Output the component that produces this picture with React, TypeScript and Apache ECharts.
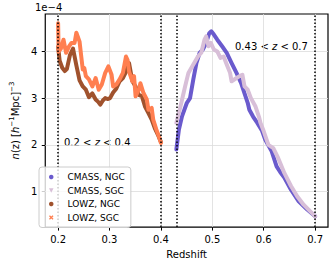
import React, { useEffect, useRef } from "react";
import * as echarts from "echarts";

const FONT = "DejaVu Sans";

const xTicks = [0.2, 0.3, 0.4, 0.5, 0.6, 0.7];
const yTicks = [1, 2, 3, 4];
const zCuts = [0.2, 0.4, 0.43, 0.7];

const cmassNgcZ = [0.430, 0.435, 0.441, 0.4505, 0.4566, 0.463, 0.469, 0.4753, 0.4815, 0.488, 0.494, 0.498, 0.503, 0.5096, 0.519, 0.528, 0.5375, 0.547, 0.556, 0.5626, 0.5688, 0.572, 0.5795, 0.5875, 0.5967, 0.603, 0.6155, 0.625, 0.632, 0.640, 0.653, 0.668, 0.684, 0.700];
const cmassNgcN = [1.90, 2.33, 2.61, 2.90, 3.00, 3.40, 3.75, 3.97, 4.04, 4.18, 4.39, 4.43, 4.36, 4.25, 4.11, 3.97, 3.75, 3.54, 3.32, 3.10, 2.90, 2.75, 2.60, 2.47, 2.30, 2.11, 1.86, 1.54, 1.42, 1.30, 1.04, 0.79, 0.62, 0.47];

const cmassSgcZ = [0.430, 0.438, 0.447, 0.4535, 0.463, 0.472, 0.4785, 0.4847, 0.488, 0.4927, 0.497, 0.503, 0.5096, 0.5158, 0.522, 0.528, 0.5345, 0.5375, 0.547, 0.553, 0.5585, 0.5626, 0.5688, 0.575, 0.584, 0.5907, 0.5937, 0.600, 0.609, 0.6186, 0.628, 0.640, 0.653, 0.665, 0.6775, 0.690, 0.700];
const cmassSgcN = [2.47, 2.82, 3.25, 3.54, 3.72, 3.89, 3.97, 4.25, 4.32, 4.11, 4.18, 4.04, 4.00, 3.86, 3.89, 3.72, 3.54, 3.36, 3.43, 3.47, 3.50, 3.25, 3.18, 3.00, 2.82, 2.60, 2.47, 2.29, 2.00, 1.93, 1.72, 1.40, 1.12, 0.90, 0.72, 0.58, 0.47];

const lowzNgcZ = [0.200, 0.203, 0.208, 0.213, 0.217, 0.223, 0.229, 0.2355, 0.2417, 0.248, 0.254, 0.260, 0.2666, 0.273, 0.278, 0.282, 0.287, 0.2916, 0.297, 0.301, 0.307, 0.313, 0.3196, 0.326, 0.332, 0.338, 0.3445, 0.3507, 0.357, 0.363, 0.369, 0.3757, 0.382, 0.388, 0.394, 0.400];
const lowzNgcN = [4.10, 3.80, 3.65, 3.58, 3.62, 3.92, 4.06, 3.70, 3.38, 3.25, 3.18, 3.02, 3.10, 2.97, 2.92, 2.86, 2.95, 3.00, 2.98, 3.00, 3.12, 3.20, 3.36, 3.43, 3.56, 3.75, 3.36, 3.25, 3.07, 3.04, 2.82, 2.68, 2.54, 2.36, 2.22, 2.06];

const lowzSgcZ = [0.200, 0.201, 0.205, 0.2105, 0.2155, 0.221, 0.226, 0.232, 0.2355, 0.2417, 0.245, 0.248, 0.251, 0.254, 0.260, 0.2666, 0.273, 0.279, 0.285, 0.2916, 0.2978, 0.304, 0.307, 0.313, 0.3196, 0.326, 0.332, 0.335, 0.338, 0.3445, 0.3477, 0.3507, 0.357, 0.360, 0.366, 0.3725, 0.3757, 0.382, 0.385, 0.391, 0.397, 0.400];
const lowzSgcN = [4.60, 4.00, 4.05, 4.25, 3.97, 4.10, 4.18, 4.18, 4.40, 4.21, 3.89, 3.61, 3.64, 3.47, 3.40, 3.25, 3.43, 3.18, 3.29, 3.54, 3.68, 3.50, 3.25, 3.29, 3.40, 3.54, 3.89, 3.82, 3.57, 3.36, 3.47, 3.04, 3.18, 3.32, 3.11, 2.97, 2.75, 2.79, 2.54, 2.33, 2.15, 2.04];

const seriesNames = ["CMASS, NGC", "CMASS, SGC", "LOWZ, NGC", "LOWZ, SGC"];
const seriesColors = ["#6A5ACD", "#D8BFD8", "#A0522D", "#FF7F50"];

const pairs = (zs: number[], ns: number[]) => zs.map((z, i) => [z, ns[i]]);

export default function App() {
  const ref = useRef<HTMLDivElement>(null);
  useEffect(() => {
    if (!ref.current) return;
    const chart = echarts.init(ref.current, null, { renderer: "svg" });
    const datasets = [
      pairs(cmassNgcZ, cmassNgcN),
      pairs(cmassSgcZ, cmassSgcN),
      pairs(lowzNgcZ, lowzNgcN),
      pairs(lowzSgcZ, lowzSgcN),
    ];
    const icons = [
      "circle",
      "path://M0,0 L10,0 L5,10 Z",
      "circle",
      "path://M0,2 L2,0 L5,3 L8,0 L10,2 L7,5 L10,8 L8,10 L5,7 L2,10 L0,8 L3,5 Z",
    ];
    const option: any = {
      animation: false,
      grid: { left: 34, top: 14, right: 5, bottom: 36, show: true, borderColor: "#000", borderWidth: 1.2, backgroundColor: "transparent" },
      xAxis: {
        type: "value", min: 0.175, max: 0.725,
        axisLine: { show: false },
        axisTick: { show: true, inside: false, length: 3.5, lineStyle: { color: "#000", width: 1 }, customValues: xTicks },
        axisLabel: { customValues: xTicks, formatter: (v: number) => v.toFixed(1), fontSize: 10, color: "#000", margin: 7, fontFamily: FONT },
        splitLine: { show: false },
        name: "Redshift", nameLocation: "middle", nameGap: 19,
        nameTextStyle: { fontSize: 10, color: "#000", fontFamily: FONT },
      },
      yAxis: {
        type: "value", min: 0.24, max: 4.8,
        axisLine: { show: false },
        axisTick: { show: true, inside: false, length: 3.5, lineStyle: { color: "#000", width: 1 }, customValues: yTicks },
        axisLabel: { customValues: yTicks, formatter: (v: number) => String(v), fontSize: 10, color: "#000", margin: 8, fontFamily: FONT },
        splitLine: { show: false },
        name: "{i|n}(z) [{i|h}{s|−1}Mpc]{s|−3}", nameLocation: "middle", nameGap: 16, nameRotate: 90,
        nameTextStyle: {
          fontSize: 10, color: "#000", fontFamily: FONT,
          rich: {
            i: { fontStyle: "italic", fontSize: 10, fontFamily: FONT, color: "#000" },
            s: { fontSize: 7, fontFamily: FONT, color: "#000", padding: [0, 0, 7, 0] },
          },
        },
      },
      legend: {
        orient: "vertical", left: 39, top: 167, z: 4,
        padding: [4, 6, 4, 10], itemGap: 1.5, itemWidth: 4.5, itemHeight: 4.5,
        backgroundColor: "rgba(255,255,255,0.8)", borderColor: "#cccccc", borderWidth: 1, borderRadius: 3,
        formatter: (name: string) => "{t|" + name + "}",
        textStyle: {
          fontSize: 9, fontFamily: FONT, color: "#000", lineHeight: 12,
          rich: { t: { fontSize: 9, fontFamily: FONT, color: "#000", lineHeight: 12, padding: [0, 0, 0, 9] } },
        },
        data: seriesNames.map((n, i) => ({ name: n, icon: icons[i] })),
      },
      graphic: [
        { type: "text", left: 35, top: 2, style: { text: "1e−4", fontSize: 10, fontFamily: FONT, fill: "#000" } },
        {
          type: "text", left: 64, top: 137,
          style: { text: "0.2 < {i|z} < 0.4", fontSize: 10, fontFamily: FONT, fill: "#000", rich: { i: { fontStyle: "italic", fontSize: 10, fontFamily: FONT, fill: "#000" } } },
        },
        {
          type: "text", left: 235, top: 41,
          style: { text: "0.43 < {i|z} < 0.7", fontSize: 10, fontFamily: FONT, fill: "#000", rich: { i: { fontStyle: "italic", fontSize: 10, fontFamily: FONT, fill: "#000" } } },
        },
      ],
      series: [
        {
          type: "line", name: "grid", data: [], z: 1, silent: true,
          markLine: {
            z: 1,
            silent: true, symbol: "none", label: { show: false },
            lineStyle: { color: "#dcdcdc", width: 0.8, type: "solid" },
            data: [...xTicks.map((x) => ({ xAxis: x })), ...yTicks.map((y) => ({ yAxis: y }))],
          },
        },
        ...datasets.map((d, i) => ({
          type: "line", name: seriesNames[i], data: d, showSymbol: false, z: 2,
          color: seriesColors[i],
          lineStyle: { color: seriesColors[i], width: 4, cap: "round", join: "round" },
        })),
        {
          type: "line", name: "cuts", data: [], z: 3, silent: true,
          markLine: {
            z: 3,
            silent: true, symbol: "none", label: { show: false },
            lineStyle: { color: "#000", width: 1.5, type: [1.5, 2] },
            data: zCuts.map((x) => ({ xAxis: x })),
          },
        },
      ],
    };
    chart.setOption(option);
    return () => chart.dispose();
  }, []);
  return <div ref={ref} style={{ position: "absolute", left: 0, top: 0, width: 333, height: 264 }} />;
}
